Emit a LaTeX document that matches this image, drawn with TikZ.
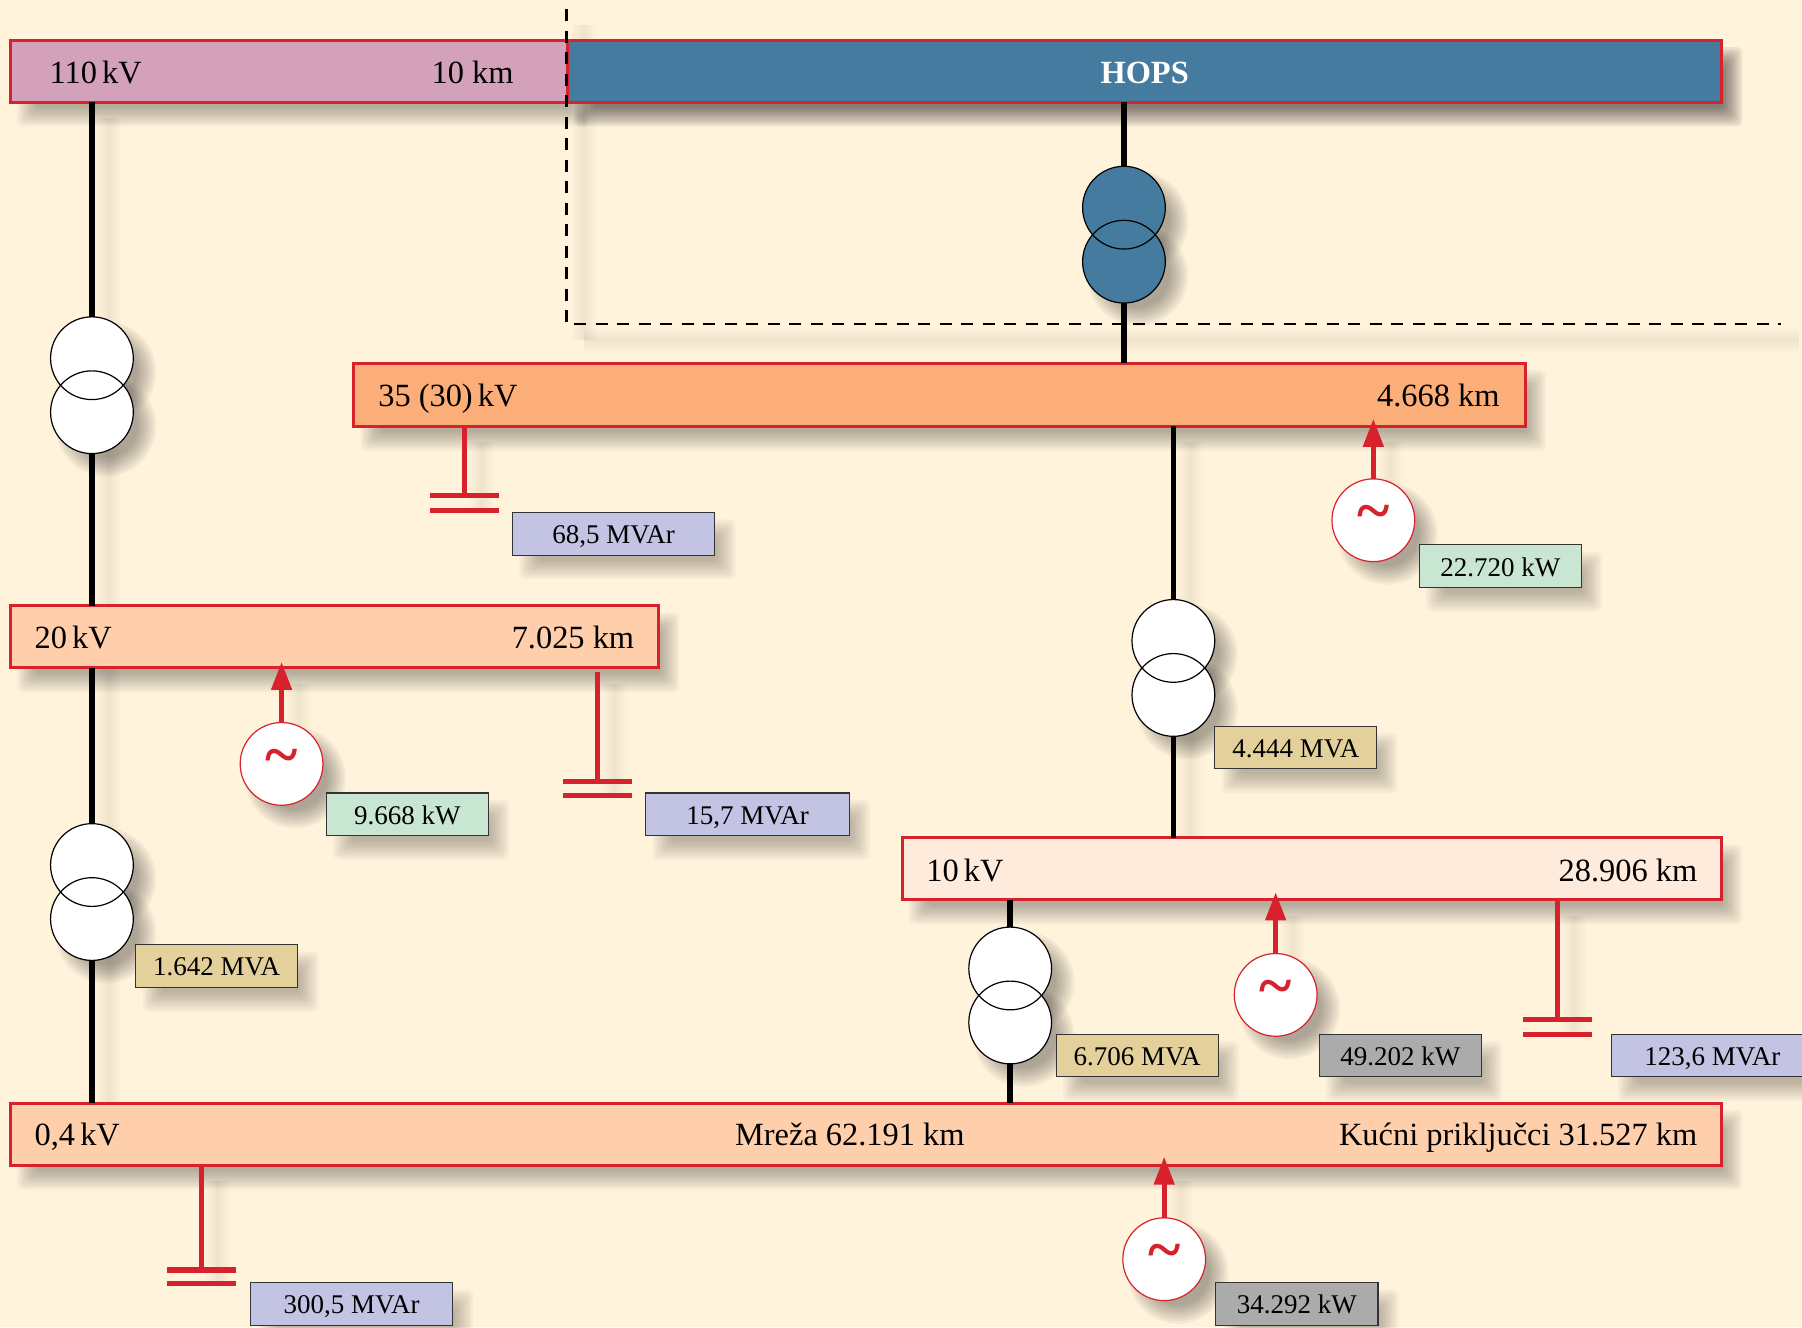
\documentclass[tikz,border=0pt]{standalone}
\usepackage{fontspec}
\setmainfont{Liberation Serif}
\usetikzlibrary{arrows.meta,calc}
\definecolor{bgc}{HTML}{FFF3DC}
\definecolor{redc}{HTML}{D7222E}
\definecolor{hopsc}{HTML}{447B9E}
\definecolor{b110}{HTML}{D4A1BB}
\definecolor{b35}{HTML}{FBAE77}
\definecolor{b20}{HTML}{FFCEAB}
\definecolor{b10}{HTML}{FFEBDC}
\definecolor{lav}{HTML}{C3C3E3}
\definecolor{grn}{HTML}{C9E6D2}
\definecolor{tan}{HTML}{E3D09B}
\definecolor{gry}{HTML}{ABABAB}
\newcommand{\PX}{1.1492}
\newcommand{\ksp}{\hspace{-3pt}}
% soft shadows, built of stacked translucent shapes
\newcommand{\shrect}[5][.036]{\foreach \r in {-8,-6,-4,-2,0,2,4,6,8}{\fill[black,opacity=#1,rounded corners=5pt] ({#2+14-\r},{#3+14-\r}) rectangle ({#4+10+\r},{#5+13+\r});}}
\newcommand{\shcirc}[2]{\foreach \r in {-8,-6,-4,-2,0,2,4,6,8}{\fill[black,opacity=.04] ({#1+12},{#2+12}) circle ({36+\r});}}
\newcommand{\shline}[4]{\foreach \w in {4,9,14,19,24}{\draw[black,opacity=.013,line width=\w pt] ({#1+15},{#2+14}) -- ({#3+15},{#4+14});}}
\newcommand{\bus}[6]{\node[busbox,fill=#6,minimum width={(#4-#2)*\PX pt},minimum height={(#5-#3)*\PX pt}] (#1) at (#2,#3) {};}
\newcommand{\tag}[7]{\node[tagbox,fill=#6,minimum width={(#4-#2)*\PX pt},minimum height={(#5-#3)*\PX pt}] (#1) at ({(#2+#4)/2},{(#3+#5)/2}) {#7};}
\newcommand{\capbank}[6]{%
  \node[plate,minimum width={60*\PX pt}] (#1a) at (#2,#3) {};
  \node[plate,minimum width={60*\PX pt}] (#1b) at (#2,#4) {};
  \draw[redline] ($(#5.south -| #1a.north)+(0,#6)$) -- (#1a.north);}
\tikzset{
  busbox/.style={draw=redc,line width=3pt,anchor=north west,inner sep=0pt,outer sep=0pt},
  tagbox/.style={draw=black!80,line width=1.1pt,inner sep=0pt,outer sep=0pt,font=\fontsize{27}{30}\selectfont,text height=23pt,text depth=3pt},
  bustext/.style={font=\fontsize{32.4}{36}\selectfont,inner sep=0pt,text=black},
  winding/.style={circle,draw=black,line width=1.2pt,minimum size={72*\PX pt},inner sep=0pt,outer sep=0pt},
  feeder/.style={black,line width=5.5pt},
  redline/.style={redc,line width=5pt},
  plate/.style={fill=redc,minimum height=5.5pt,inner sep=0pt,outer sep=0pt},
  gen/.style={circle,draw=redc,fill=white,line width=1.2pt,minimum size={72*\PX pt},inner sep=0pt,outer sep=0pt,text=redc},
  tilde/.style={font=\fontsize{62}{62}\selectfont\bfseries},
  genarrow/.style={redc,line width=5pt,-{Triangle[width=20pt,length=28pt]}},
  boundary/.style={black,line width=2.8pt,dash pattern=on 12pt off 9.5pt}
}
\begin{document}
\begin{tikzpicture}[x=\PX pt,y=-\PX pt]
\useasboundingbox (0,0) rectangle (1568,1154.7);
\fill[bgc] (0,0) rectangle (1568,1154.7);
% shadows
\shrect{9}{35}{494}{89}
\shrect[.065]{494}{35}{1498}{89}
\shrect{308}{316}{1327}{371}
\shrect{9}{527}{573}{581}
\shrect{785}{729}{1498}{783}
\shrect{9}{960}{1498}{1014}
\shrect[.03]{446}{446}{622}{483}
\shrect[.03]{1235}{474}{1376}{511}
\shrect[.03]{1057}{632}{1198}{669}
\shrect[.03]{284}{690}{425}{727}
\shrect[.03]{562}{690}{739}{727}
\shrect[.03]{118}{822}{259}{859}
\shrect[.03]{919}{900}{1060}{937}
\shrect[.03]{1148}{900}{1289}{937}
\shrect[.03]{1402}{900}{1578}{937}
\shrect[.03]{218}{1116}{394}{1153}
\shrect[.03]{1058}{1116}{1199}{1153}
\shcirc{80}{311.7}\shcirc{80}{358.7}\shcirc{80}{752.7}\shcirc{80}{799.7}
\shcirc{978}{180.7}\shcirc{978}{227.7}\shcirc{1021}{557.7}\shcirc{1021}{604.7}
\shcirc{879}{842.7}\shcirc{879}{889.7}
\shcirc{1195}{452.7}\shcirc{245}{664.7}\shcirc{1110}{865.7}\shcirc{1013}{1095.7}
\shline{80}{89}{80}{960}
\shline{1021}{371}{1021}{729}
\shline{404}{371}{404}{431}
\shline{520}{581}{520}{680}
\shline{1355}{783}{1355}{887}
\shline{175}{1014}{175}{1105}
\shline{1195}{371}{1195}{416}
\shline{245}{581}{245}{628}
\shline{1110}{783}{1110}{829}
\shline{1013}{1014}{1013}{1059}
\shline{493}{8}{493}{282}
\shline{493}{282}{1550}{282}
% buses
\bus{bhv}{9}{35}{494}{89}{b110}
\bus{hops}{494}{35}{1498}{89}{hopsc}
\bus{bsf}{308}{316}{1327}{371}{b35}
\bus{btw}{9}{527}{573}{581}{b20}
\bus{bten}{785}{729}{1498}{783}{b10}
\bus{blv}{9}{960}{1498}{1014}{b20}
\node[bustext,anchor=base west] (t110) at (43,73) {110\ksp{} kV};
\node[bustext,anchor=base east] (t110k) at (447,73) {10 km};
\node[bustext,anchor=base,text=white,font=\fontsize{32.4}{36}\selectfont\bfseries] (thops) at (996,73) {HOPS};
\node[bustext,anchor=base west] (t35) at (329,354) {35 (30)\ksp{} kV};
\node[bustext,anchor=base east] (t35k) at (1305,354) {4.668 km};
\node[bustext,anchor=base west] (t20) at (30,564.5) {20\ksp{} kV};
\node[bustext,anchor=base east] (t20k) at (552,564.5) {7.025 km};
\node[bustext,anchor=base west] (t10) at (806,767) {10\ksp{} kV};
\node[bustext,anchor=base east] (t10k) at (1477,767) {28.906 km};
\node[bustext,anchor=base west] (t04) at (30,997) {0,4\ksp{} kV};
\node[bustext,anchor=base] (t04m) at (739.5,997) {Mreža 62.191 km};
\node[bustext,anchor=base east] (t04k) at (1477,997) {Kućni priključci 31.527 km};
% transformers
\fill[white] (80,358.7) circle (36) (80,311.7) circle (36) (80,799.7) circle (36) (80,752.7) circle (36)
  (1021,604.7) circle (36) (1021,557.7) circle (36) (879,889.7) circle (36) (879,842.7) circle (36);
\fill[hopsc] (978,227.7) circle (36) (978,180.7) circle (36);
\node[winding] (taa) at (80,311.7) {};
\node[winding] (tab) at (80,358.7) {};
\node[winding] (tba) at (80,752.7) {};
\node[winding] (tbb) at (80,799.7) {};
\node[winding] (tca) at (978,180.7) {};
\node[winding] (tcb) at (978,227.7) {};
\node[winding] (tda) at (1021,557.7) {};
\node[winding] (tdb) at (1021,604.7) {};
\node[winding] (tea) at (879,842.7) {};
\node[winding] (teb) at (879,889.7) {};
\draw[feeder] (bhv.south -| taa.north) -- (taa.north);
\draw[feeder] (tab.south) -- (tab.south |- btw.north);
\draw[feeder] (btw.south -| tba.north) -- (tba.north);
\draw[feeder] (tbb.south) -- (tbb.south |- blv.north);
\draw[feeder] (hops.south -| tca.north) -- (tca.north);
\draw[feeder] (tcb.south) -- (tcb.south |- bsf.north);
\draw[feeder] (bsf.south -| tda.north) -- (tda.north);
\draw[feeder] (tdb.south) -- (tdb.south |- bten.north);
\draw[feeder] (bten.south -| tea.north) -- (tea.north);
\draw[feeder] (teb.south) -- (teb.south |- blv.north);
% capacitors
\capbank{ca}{404}{431}{444}{bsf}{0}
\capbank{cb}{520}{680}{692}{btw}{4}
\capbank{cc}{1355}{887}{900}{bten}{0}
\capbank{cd}{175}{1105}{1117}{blv}{0}
% generators
\node[gen,tilde] (ga) at (1195,452.7) {\raisebox{4pt}{\textasciitilde}};
\node[gen,tilde] (gb) at (245,664.7) {\raisebox{4pt}{\textasciitilde}};
\node[gen,tilde] (gc) at (1110,865.7) {\raisebox{4pt}{\textasciitilde}};
\node[gen,tilde] (gd) at (1013,1095.7) {\raisebox{4pt}{\textasciitilde}};
\draw[genarrow] (ga.north) -- ($(bsf.south -| ga.north)+(0,-6.5)$);
\draw[genarrow] (gb.north) -- ($(btw.south -| gb.north)+(0,-5)$);
\draw[genarrow] (gc.north) -- ($(bten.south -| gc.north)+(0,-6.5)$);
\draw[genarrow] (gd.north) -- ($(blv.south -| gd.north)+(0,-7.5)$);
% labels
\tag{la}{446}{446}{622}{483}{lav}{68,5 MVAr}
\tag{lb}{1235}{474}{1376}{511}{grn}{22.720 kW}
\tag{lc}{1057}{632}{1198}{669}{tan}{4.444 MVA}
\tag{ld}{284}{690}{425}{727}{grn}{9.668 kW}
\tag{le}{562}{690}{739}{727}{lav}{15,7 MVAr}
\tag{lf}{118}{822}{259}{859}{tan}{1.642 MVA}
\tag{lg}{919}{900}{1060}{937}{tan}{6.706 MVA}
\tag{lh}{1148}{900}{1289}{937}{gry}{49.202 kW}
\tag{li}{1402}{900}{1578}{937}{lav}{123,6 MVAr}
\tag{lj}{218}{1116}{394}{1153}{lav}{300,5 MVAr}
\tag{lk}{1058}{1116}{1199}{1153}{gry}{34.292 kW}
% boundary of the transmission area
\coordinate (dtop) at (493,8);
\coordinate (dcorner) at (493,282);
\coordinate (dend) at (1550,282);
\draw[boundary] (dtop) -- (dcorner) -- (dend);
\end{tikzpicture}
\end{document}
